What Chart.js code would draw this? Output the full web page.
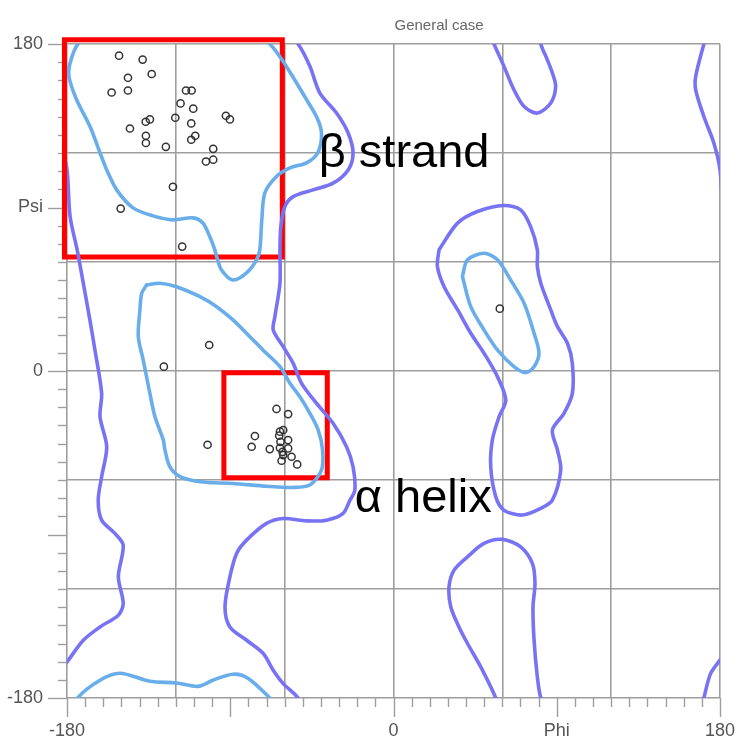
<!DOCTYPE html>
<html><head><meta charset="utf-8">
<script src="https://cdn.jsdelivr.net/npm/chart.js@4.4.1/dist/chart.umd.min.js"></script>
<style>html,body{margin:0;padding:0;background:#fff;overflow:hidden;}#wrap{width:742px;height:741px;position:relative;}canvas{display:block;}</style>
</head><body><div id="wrap"><canvas id="c"></canvas></div>
<script>
// ---- text / ticks ----
const titleText = 'General case';
const xLabelValues = [-180, 0, 90, 180];
const xLabelTexts = ['-180', '0', 'Phi', '180'];
const yLabelValues = [180, 90, 0, -180];
const yLabelTexts = ['180', 'Psi', '0', '-180'];

// ---- observed residues (phi, psi) ----
const betaResidues = [[-151.3,173.6],[-138.3,171.4],[-133.3,163.5],[-146.4,161.4],[-146.4,154.4],[-155.4,153.3],
 [-114.4,154.4],[-111.3,154.4],[-117.4,147.3],[-110.4,144.4],[-120.3,139.4],[-136.6,137.2],[-134.3,138.5],
 [-111.5,136.3],[-92.4,140.5],[-90.2,138.5],[-145.3,133.5],[-136.5,129.5],[-136.5,125.5],[-109.3,129.5],
 [-111.5,127.3],[-125.5,123.4],[-99.4,122.3],[-99.4,116.3],[-103.4,115.3],[-121.6,101.4],[-150.4,89.4],[-116.5,68.5]];
const alphaResidues = [[-64.5,-20.9],[-58.1,-23.7],[-76.4,-35.8],[-78.2,-41.7],[-68.2,-43.0],[-60.8,-32.5],
 [-62.6,-33.4],[-63.0,-35.6],[-58.1,-38.0],[-62.3,-39.0],[-62.6,-42.3],[-58.1,-42.6],[-61.2,-44.5],[-60.8,-46.3],
 [-56.2,-47.2],[-61.7,-49.4],[-53.1,-51.4],[-101.6,14.3],[-126.6,2.4],[-102.5,-40.6]];
const leftHandedResidues = [[58.6,34.3]];

// ---- favoured (inner) contours ----
const favBeta = [[-161.8,189.8],[-174,180],[-178.3,169.5],[-178.9,162],[-174.7,149.3],[-167.3,134.6],[-161.8,120.1],
 [-158.1,110.7],[-152.6,99.7],[-143.6,89.8],[-132.6,85.4],[-121.6,83.2],[-110.6,84.3],[-105.1,81.5],[-101.2,73.8],
 [-98.5,66.7],[-97.5,63],[-94.8,55.6],[-88.5,50.1],[-81,54],[-75.5,61.2],[-73.7,66.7],[-72.6,83.2],[-70.9,98.1],
 [-64.5,107.1],[-57.1,111.8],[-47.9,114.6],[-41.7,120.1],[-39.7,131.1],[-42.4,139.9],[-47.9,149.3],[-55.5,162],
 [-62.6,173],[-68.2,180],[-80.3,190.9]];
const favBetaWrap = [[-178.3,-190.5],[-174.1,-180],[-161.8,-170.2],[-150.8,-166.4],[-134.3,-170.8],[-119.6,-171.7],
 [-107.8,-173.6],[-99.6,-170.2],[-88.5,-166.9],[-80.3,-169.1],[-68.2,-180],[-62.6,-187]];
const favAlpha = [[-136.1,47.4],[-128.8,48.3],[-119.6,46.4],[-106.7,40.9],[-97.5,35.4],[-88.5,28.1],[-79.2,18.9],
 [-72.0,11.6],[-62.6,2.4],[-57.1,-6.8],[-51.6,-14.2],[-46.1,-23.3],[-41.5,-32.5],[-39.1,-43.5],[-39.7,-54.5],
 [-46.1,-62.8],[-55.5,-64.1],[-70.0,-63.4],[-88.5,-61.9],[-106.7,-61.0],[-117.7,-58.2],[-123.3,-52.7],[-126.0,-43.5],
 [-126.9,-38.0],[-131.5,-25.2],[-134.3,-12.3],[-138.0,6.1],[-140.7,18.9],[-139.8,33.6],[-138.8,42.8],[-136.1,47.4]];
const favLeft = [[38.0,52.0],[40.8,61.2],[49.9,64.8],[57.3,61.2],[64.6,50.1],[72.0,37.3],[77.5,20.8],[80.2,9.8],
 [77.5,2.4],[72.9,-0.9],[66.4,2.4],[57.3,11.6],[49.9,22.6],[42.6,35.4],[38.0,52.0]];

// ---- allowed (outer) contours ----
const allowLeftEdge = [[-183.4,125.5],[-180,110.7],[-178.3,85.0],[-174.4,66.7],[-171.0,48.3],[-167.7,29.9],[-164.6,11.6],
 [-160.9,-12.3],[-161.8,-25.2],[-158.1,-41.7],[-160.9,-58.2],[-162.8,-71.1],[-160.9,-82.1],[-153.6,-89.4],[-149.0,-95.9],
 [-151.7,-113.3],[-149.0,-128.0],[-151.7,-134.4],[-161.8,-140.9],[-171.0,-148.2],[-180,-160.2],[-185.2,-166.6]];
const allowRightBottom = [[189,-148.2],[180,-159.2],[174.8,-166.6],[171.1,-180],[166.6,-197.9]];
const allowRightTop = [[174.8,193.4],[171.1,180],[166.6,162.1],[166.6,154.8],[171.1,140.1],[176.6,125.5],[180,110.7],[181.7,85]];
const allowCentral = [[-60.8,187.9],[-52.6,180],[-46.1,167.7],[-40.6,153.0],[-31.4,142.0],[-25.0,131.0],[-22.3,119.9],
 [-25.0,110.7],[-33.3,103.4],[-44.3,99.7],[-55.3,96.0],[-59.9,90.5],[-62.1,79.5],[-62.6,66.7],[-62.6,48.3],[-65.4,29.9],
 [-66.3,22.6],[-60.8,13.4],[-55.3,4.2],[-50.7,-6.8],[-42.4,-17.8],[-33.3,-28.8],[-25.9,-41.7],[-22.3,-52.7],[-21.3,-65.6],
 [-24.0,-71.1],[-27.8,-78.4],[-36.9,-82.1],[-47.9,-82.5],[-60.8,-81.2],[-70.0,-83.9],[-81.0,-93.1],[-86.5,-100.4],
 [-90.2,-113.3],[-92.9,-129.9],[-90.2,-140.9],[-81.0,-148.2],[-71.8,-155.5],[-66.3,-164.7],[-60.8,-172.1],[-52.6,-180],[-46.1,-192.3]];
const allowTopMid = [[48.1,197.1],[55.4,180],[60.9,167.7],[66.4,154.8],[72.0,145.6],[79.3,142.0],[86.7,147.5],[89.4,156.6],
 [87.6,164.0],[84.8,171.3],[81.2,180],[79.3,191.6]];
const allowBottomMid = [[60.9,-192.3],[56.4,-180],[48.1,-162.9],[40.8,-150.0],[36.1,-140.9],[31.6,-129.9],[30.6,-118.8],
 [33.4,-109.6],[40.8,-102.3],[49.9,-94.9],[60.1,-92.7],[70.1,-96.8],[76.6,-106.0],[78.0,-117.0],[76.9,-129.9],
 [77.5,-148.2],[79.3,-168.4],[81.2,-180],[84.8,-188.7]];
const allowLeftHanded = [[25.1,66.7],[35.3,81.4],[46.3,87.8],[60.9,91.1],[70.1,88.7],[75.6,79.5],[79.3,66.7],[79.3,57.5],
 [81.2,48.3],[86.7,33.6],[90.4,24.4],[95.9,15.3],[98.6,4.2],[98.6,-12.3],[94.0,-23.3],[87.6,-32.5],[90.4,-43.5],
 [92.2,-54.5],[87.6,-71.1],[81.2,-75.6],[71.1,-79.3],[60.9,-76.6],[56.4,-69.3],[53.6,-52.7],[54.5,-38.0],[58.2,-25.2],
 [61.9,-16.0],[57.3,-3.1],[49.9,9.8],[42.6,20.8],[35.4,33.6],[27.9,46.4],[24.2,57.5],[25.1,66.7]];

// ---- highlighted regions: [phiMin, phiMax, psiMin, psiMax] ----
const betaBox = [-181.4, -61.3, 62.8, 182.3];
const alphaBox = [-93.5, -36.5, -58.7, -1.0];
// ---- annotations: text, phi, psi (left/baseline anchor) ----
const annotations = [['β strand', -41.2, 112.4], ['α helix', -21.3, -77.4]];

const FONT = "'Liberation Sans', Arial, Helvetica, sans-serif";
const PURPLE = '#7873f4', BLUE = '#69aeea', GRID = '#9e9e9e';
const xy = arr => arr.map(p => ({x: p[0], y: p[1]}));
const boxXY = b => xy([[b[0],b[3]],[b[1],b[3]],[b[1],b[2]],[b[0],b[2]],[b[0],b[3]]]);

const lineDs = (data, color) => ({data: xy(data), showLine: true, borderColor: color, borderWidth: 3.6,
  pointRadius: 0, tension: 0.3, fill: false, borderCapStyle: 'round', borderJoinStyle: 'round'});
const pointDs = data => ({data: xy(data), showLine: false, pointRadius: 3.6, pointBorderWidth: 1.5,
  pointBorderColor: '#333', pointBackgroundColor: 'rgba(255,255,255,0)', pointStyle: 'circle'});
const boxDs = b => ({data: boxXY(b), showLine: true, borderColor: '#ff0000', borderWidth: 5, pointRadius: 0,
  tension: 0, clip: false, borderJoinStyle: 'miter', borderCapStyle: 'square'});

const isInt = v => Math.abs(v - Math.round(v)) < 1e-6;
const gridColor = ctx => (ctx.tick && isInt(ctx.tick.value) && Math.round(ctx.tick.value) % 60 === 0) ? GRID : 'rgba(0,0,0,0)';

const extrasPlugin = {
  id: 'extras',
  beforeDatasetsDraw(chart) {
    const {ctx, scales: {x, y}, chartArea: a} = chart;
    ctx.save();
    ctx.strokeStyle = GRID; ctx.lineWidth = 1.4;
    for (let v = -180; v <= 180; v += 10) {
      const len = (v % 90 === 0) ? 19 : 9;
      const px = Math.round(x.getPixelForValue(v)) + 0.5;
      ctx.beginPath(); ctx.moveTo(px, a.bottom); ctx.lineTo(px, a.bottom + len); ctx.stroke();
      const py = Math.round(y.getPixelForValue(v)) + 0.5;
      ctx.beginPath(); ctx.moveTo(a.left, py); ctx.lineTo(a.left - len, py); ctx.stroke();
    }
    ctx.fillStyle = '#666'; ctx.font = '15px ' + FONT; ctx.textAlign = 'left'; ctx.textBaseline = 'alphabetic';
    ctx.fillText(titleText, x.getPixelForValue(0) + 1, a.top - 14);
    ctx.restore();
  },
  afterDatasetsDraw(chart) {
    const {ctx, scales: {x, y}} = chart;
    ctx.save();
    ctx.fillStyle = '#000'; ctx.font = '47px ' + FONT; ctx.textAlign = 'left'; ctx.textBaseline = 'alphabetic';
    annotations.forEach(([t, phi, psi]) => ctx.fillText(t, x.getPixelForValue(phi), y.getPixelForValue(psi)));
    ctx.restore();
  }
};

new Chart(document.getElementById('c'), {
  type: 'scatter',
  data: {datasets: [
    lineDs(allowLeftEdge, PURPLE), lineDs(allowRightBottom, PURPLE), lineDs(allowRightTop, PURPLE),
    lineDs(allowCentral, PURPLE), lineDs(allowTopMid, PURPLE), lineDs(allowBottomMid, PURPLE), lineDs(allowLeftHanded, PURPLE),
    lineDs(favBeta, BLUE), lineDs(favBetaWrap, BLUE), lineDs(favAlpha, BLUE), lineDs(favLeft, BLUE),
    pointDs(betaResidues), pointDs(alphaResidues), pointDs(leftHandedResidues),
    boxDs(betaBox), boxDs(alphaBox)
  ]},
  options: {
    responsive: true, maintainAspectRatio: false, animation: false,
    layout: {padding: {top: 44, right: 22, left: 0, bottom: 0}},
    plugins: {legend: {display: false}, tooltip: {enabled: false}, title: {display: false}},
    scales: {
      x: {type: 'linear', min: -180, max: 180,
        afterFit: s => { s.height = 43; s.paddingLeft = 0; s.paddingRight = 0; },
        ticks: {stepSize: 10, autoSkip: false, maxRotation: 0, padding: 22, color: '#555', font: {size: 18, family: FONT},
          callback: v => { const i = xLabelValues.indexOf(Math.round(v)); return (isInt(v) && i >= 0) ? xLabelTexts[i] : ''; }},
        grid: {color: gridColor, lineWidth: 1.6, drawTicks: false},
        border: {display: false}},
      y: {type: 'linear', min: -180, max: 180,
        afterFit: s => { s.width = 67; s.paddingTop = 0; s.paddingBottom = 0; },
        ticks: {stepSize: 10, autoSkip: false, padding: 24, color: '#555', font: {size: 18, family: FONT},
          callback: v => { const i = yLabelValues.indexOf(Math.round(v)); return (isInt(v) && i >= 0) ? yLabelTexts[i] : ''; }},
        grid: {color: gridColor, lineWidth: 1.6, drawTicks: false},
        border: {display: false}}
    }
  },
  plugins: [extrasPlugin]
});
</script></body></html>
